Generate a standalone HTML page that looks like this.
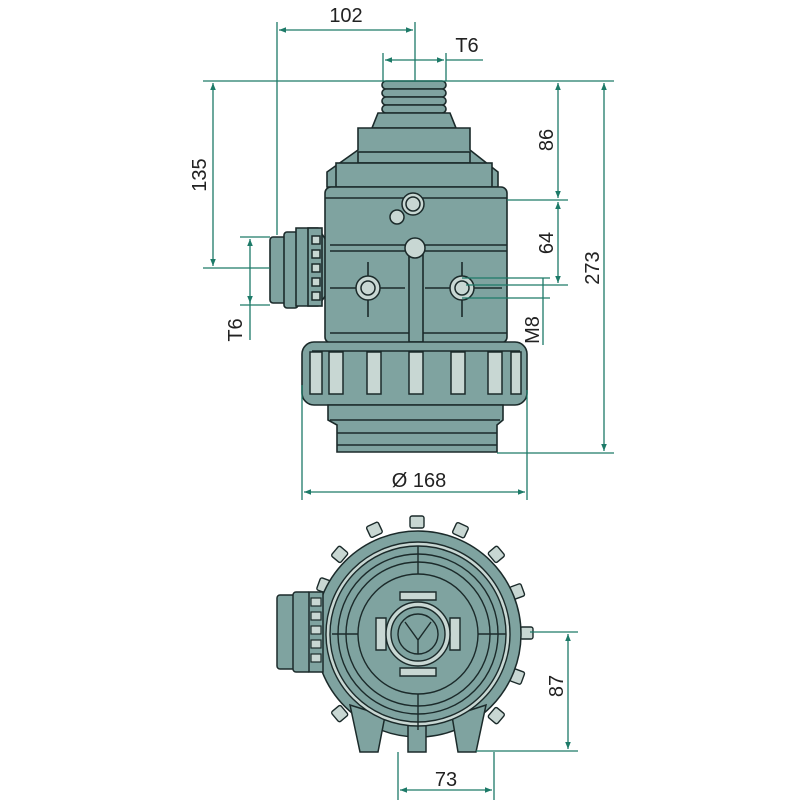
<!DOCTYPE html>
<html><head><meta charset="utf-8"><style>html,body{margin:0;background:#fff}svg{display:block}</style></head><body>
<svg width="800" height="800" viewBox="0 0 800 800" xmlns="http://www.w3.org/2000/svg" font-family="Liberation Sans, sans-serif">
<defs>
<marker id="a" viewBox="0 0 10 10" refX="10" refY="5" markerWidth="9" markerHeight="7" orient="auto-start-reverse" markerUnits="userSpaceOnUse"><path d="M0,1 L10,5 L0,9z" fill="#1d7a68"/></marker>
</defs>
<g fill="#7fa3a0" stroke="#1b2a2a" stroke-width="1.6">
<!-- neck -->
<rect x="382" y="81" width="64" height="8" rx="4"/>
<rect x="382" y="89" width="64" height="8" rx="4"/>
<rect x="382" y="97" width="64" height="8" rx="4"/>
<rect x="382" y="105" width="64" height="8" rx="4"/>
<path d="M378,113 H450 L456,128 H372 Z"/>
<path d="M358,128 H470 V150 L498,172 V187 H327 V172 L358,150 Z"/>
<rect x="358" y="152" width="112" height="11"/>
<rect x="336" y="163" width="156" height="24"/>
<!-- side port -->
<rect x="270" y="237" width="18" height="66" rx="3"/>
<rect x="284" y="232" width="14" height="76" rx="3"/>
<path d="M296,228 H318 L326,240 V295 L318,306 H296 Z"/>
<rect x="308" y="228" width="14" height="78"/>
<!-- body -->
<rect x="325" y="187" width="182" height="156" rx="6"/>
<line x1="325" y1="198" x2="507" y2="198"/>
<line x1="330" y1="245" x2="507" y2="245"/>
<line x1="330" y1="251" x2="507" y2="251"/>
<line x1="330" y1="333" x2="507" y2="333"/>
<line x1="330" y1="288" x2="405" y2="288"/>
<line x1="425" y1="288" x2="502" y2="288"/>
<rect x="409" y="250" width="14" height="92"/>
<line x1="368" y1="262" x2="368" y2="317"/>
<line x1="462" y1="262" x2="462" y2="317"/>
<!-- ring -->
<rect x="302" y="342" width="225" height="63" rx="12"/>
<line x1="312" y1="351" x2="520" y2="351"/>
<!-- bottom -->
<path d="M328,405 H503 V420 L497,425 V452 H337 V425 L328,420 Z"/>
<line x1="330" y1="420" x2="500" y2="420"/>
<line x1="337" y1="433" x2="497" y2="433"/>
<line x1="337" y1="445" x2="497" y2="445"/>
</g>
<g fill="#c8d7d3" stroke="#1b2a2a" stroke-width="1.5">
<circle cx="413" cy="204" r="11"/><circle cx="413" cy="204" r="7"/>
<circle cx="397" cy="217" r="7"/>
<circle cx="415" cy="248" r="10"/>
<circle cx="368" cy="288" r="12"/><circle cx="368" cy="288" r="7"/>
<circle cx="462" cy="288" r="12"/><circle cx="462" cy="288" r="7"/>
<rect x="310" y="352" width="12" height="42"/><rect x="329" y="352" width="14" height="42"/>
<rect x="367" y="352" width="14" height="42"/><rect x="409" y="352" width="14" height="42"/>
<rect x="451" y="352" width="14" height="42"/><rect x="488" y="352" width="14" height="42"/>
<rect x="511" y="352" width="10" height="42"/>
<rect x="312" y="236" width="8" height="8"/><rect x="312" y="250" width="8" height="8"/><rect x="312" y="264" width="8" height="8"/><rect x="312" y="278" width="8" height="8"/><rect x="312" y="292" width="8" height="8"/>
</g>
<!-- bottom view -->
<g fill="#c8d7d3" stroke="#1b2a2a" stroke-width="1.4">
<rect x="410" y="516" width="14" height="12" rx="2"/>
<rect x="368" y="524" width="13" height="12" rx="2" transform="rotate(-25 374 530)"/>
<rect x="454" y="524" width="13" height="12" rx="2" transform="rotate(25 460 530)"/>
<rect x="333" y="548" width="13" height="12" rx="2" transform="rotate(-50 340 554)"/>
<rect x="490" y="548" width="13" height="12" rx="2" transform="rotate(50 496 554)"/>
<rect x="511" y="585" width="13" height="12" rx="2" transform="rotate(70 517 591)"/>
<rect x="520" y="627" width="13" height="12" rx="2"/>
<rect x="511" y="671" width="13" height="12" rx="2" transform="rotate(-70 517 677)"/>
<rect x="490" y="710" width="13" height="12" rx="2" transform="rotate(-50 496 716)"/>
<rect x="318" y="580" width="13" height="12" rx="2" transform="rotate(-70 324 586)"/>
<rect x="333" y="708" width="13" height="12" rx="2" transform="rotate(50 340 714)"/>
</g>
<g fill="#7fa3a0" stroke="#1b2a2a" stroke-width="1.5">
<circle cx="418" cy="634" r="103"/>
<path d="M350,705 L360,752 H378 L385,716 Z"/>
<path d="M408,720 V752 H426 V720 Z"/>
<path d="M486,705 L476,752 H458 L452,716 Z"/>
</g>
<g fill="none" stroke="#1b2a2a" stroke-width="1.4">
<circle cx="418" cy="634" r="92" fill="#c8d7d3"/>
<circle cx="418" cy="634" r="88" fill="#7fa3a0"/>
<circle cx="418" cy="634" r="80"/>
<circle cx="418" cy="634" r="72"/>
<circle cx="418" cy="634" r="60"/>
<line x1="418" y1="546" x2="418" y2="574"/><line x1="418" y1="694" x2="418" y2="730"/>
<line x1="332" y1="634" x2="358" y2="634"/><line x1="478" y1="634" x2="506" y2="634"/>
<path d="M376,618 h10 v32 h-10z" fill="#c8d7d3"/>
<path d="M450,618 h10 v32 h-10z" fill="#c8d7d3"/>
<path d="M400,592 h36 v8 h-36z" fill="#c8d7d3"/>
<path d="M400,668 h36 v8 h-36z" fill="#c8d7d3"/>
<circle cx="418" cy="634" r="32" fill="#c8d7d3"/>
<circle cx="418" cy="634" r="27" fill="#7fa3a0"/>
<circle cx="418" cy="634" r="20"/>
<path d="M405,622 L418,640 L431,622 M418,640 V654"/>
</g>
<g fill="#7fa3a0" stroke="#1b2a2a" stroke-width="1.5">
<rect x="277" y="595" width="20" height="74" rx="3"/>
<rect x="293" y="592" width="18" height="80" rx="3"/>
<rect x="309" y="592" width="14" height="80"/>
</g>
<g fill="#c8d7d3" stroke="#1b2a2a" stroke-width="1.2">
<rect x="311" y="598" width="10" height="8"/><rect x="311" y="612" width="10" height="8"/><rect x="311" y="626" width="10" height="8"/><rect x="311" y="640" width="10" height="8"/><rect x="311" y="654" width="10" height="8"/>
</g>
<!-- dimensions -->
<g stroke="#1d7a68" stroke-width="1.3" fill="none">
<line x1="203" y1="81" x2="614" y2="81"/>
<line x1="277" y1="22" x2="277" y2="235"/>
<line x1="415" y1="22" x2="415" y2="81"/>
<line x1="279" y1="30" x2="413" y2="30" marker-start="url(#a)" marker-end="url(#a)"/>
<line x1="383" y1="53" x2="383" y2="81"/><line x1="446" y1="53" x2="446" y2="81"/>
<line x1="385" y1="60" x2="444" y2="60" marker-start="url(#a)" marker-end="url(#a)"/>
<line x1="446" y1="60" x2="483" y2="60"/>
<line x1="213" y1="83" x2="213" y2="266" marker-start="url(#a)" marker-end="url(#a)"/>
<line x1="203" y1="268" x2="270" y2="268"/>
<line x1="240" y1="237" x2="270" y2="237"/>
<line x1="240" y1="305" x2="270" y2="305"/>
<line x1="250" y1="239" x2="250" y2="340" marker-start="url(#a)"/>
<line x1="250" y1="300" x2="250" y2="303" marker-end="url(#a)"/>
<line x1="558" y1="83" x2="558" y2="198" marker-start="url(#a)" marker-end="url(#a)"/>
<line x1="507" y1="200" x2="568" y2="200"/>
<line x1="558" y1="202" x2="558" y2="283" marker-start="url(#a)" marker-end="url(#a)"/>
<line x1="466" y1="285" x2="568" y2="285"/>
<line x1="604" y1="83" x2="604" y2="451" marker-start="url(#a)" marker-end="url(#a)"/>
<line x1="497" y1="453" x2="614" y2="453"/>
<line x1="462" y1="278" x2="550" y2="278"/>
<line x1="462" y1="298" x2="550" y2="298"/>
<line x1="543" y1="278" x2="543" y2="345"/>
<line x1="302" y1="385" x2="302" y2="500"/>
<line x1="527" y1="390" x2="527" y2="500"/>
<line x1="304" y1="492" x2="525" y2="492" marker-start="url(#a)" marker-end="url(#a)"/>
<line x1="530" y1="632" x2="578" y2="632"/>
<line x1="476" y1="751" x2="578" y2="751"/>
<line x1="568" y1="634" x2="568" y2="749" marker-start="url(#a)" marker-end="url(#a)"/>
<line x1="398" y1="752" x2="398" y2="800"/>
<line x1="494" y1="752" x2="494" y2="800"/>
<line x1="400" y1="790" x2="492" y2="790" marker-start="url(#a)" marker-end="url(#a)"/>
</g>
<g fill="#222" font-size="20">
<text x="346" y="22" text-anchor="middle">102</text>
<text x="467" y="52" text-anchor="middle">T6</text>
<text x="419" y="487" text-anchor="middle">Ø 168</text>
<text x="446" y="786" text-anchor="middle">73</text>
<text transform="translate(206,175) rotate(-90)" text-anchor="middle">135</text>
<text transform="translate(242,330) rotate(-90)" text-anchor="middle">T6</text>
<text transform="translate(553,140) rotate(-90)" text-anchor="middle">86</text>
<text transform="translate(553,243) rotate(-90)" text-anchor="middle">64</text>
<text transform="translate(599,268) rotate(-90)" text-anchor="middle">273</text>
<text transform="translate(539,330) rotate(-90)" text-anchor="middle">M8</text>
<text transform="translate(563,686) rotate(-90)" text-anchor="middle">87</text>
</g>
</svg>
</body></html>
